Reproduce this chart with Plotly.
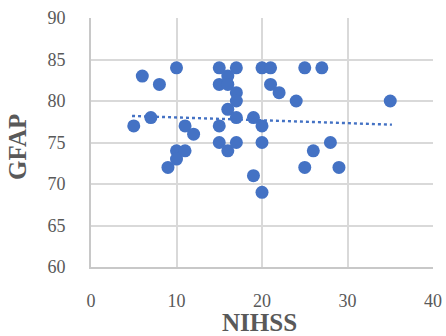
import plotly.graph_objects as go

# NIHSS score vs GFAP level
nihss = [5, 6, 7, 8, 9, 10, 10, 10, 11, 11, 12,
         15, 15, 15, 15, 16, 16, 16, 16,
         17, 17, 17, 17, 17, 19, 19,
         20, 20, 20, 20, 21, 21, 22, 24,
         25, 25, 26, 27, 28, 29, 35]
gfap = [77, 83, 78, 82, 72, 84, 74, 73, 77, 74, 76,
        84, 82, 77, 75, 83, 82, 79, 74,
        84, 81, 80, 78, 75, 78, 71,
        84, 77, 75, 69, 84, 82, 81, 80,
        84, 72, 74, 84, 75, 72, 80]

# linear trendline end points
trend_x = [4.8, 35.2]
trend_y = [78.2, 77.15]

x_ticks = [0, 10, 20, 30, 40]
y_ticks = [60, 65, 70, 75, 80, 85, 90]

blue = "#4472C4"

fig = go.Figure()
fig.add_trace(go.Scatter(
    x=nihss, y=gfap, mode="markers",
    marker=dict(color=blue, size=13, line=dict(width=0)),
    showlegend=False,
))
fig.add_trace(go.Scatter(
    x=trend_x, y=trend_y, mode="lines",
    line=dict(color=blue, width=2.4, dash="dot"),
    showlegend=False,
))

tick_font = dict(family="Liberation Serif", size=18, color="#595959")
title_font = dict(family="Liberation Serif", size=25, color="#595959")

common = dict(
    showgrid=True, gridcolor="#D9D9D9", gridwidth=1.8,
    showline=True, linecolor="#C8C8C8", linewidth=1.8,
    zeroline=False, ticks="", tickfont=tick_font,
    automargin=False, fixedrange=True,
)

fig.update_layout(
    width=446, height=336,
    margin=dict(l=91, r=13, t=18, b=69),
    paper_bgcolor="white", plot_bgcolor="white",
    xaxis=dict(range=[0, 40], tickvals=x_ticks,
               ticktext=[str(v) for v in x_ticks],
               ticklabelstandoff=16, **common),
    yaxis=dict(range=[60, 90], tickvals=y_ticks,
               ticktext=[str(v) for v in y_ticks],
               ticklabelstandoff=20, **common),
    annotations=[
        dict(text="<b>NIHSS</b>", xref="paper", yref="paper",
             x=0.494, y=-0.222, xanchor="center", yanchor="middle",
             showarrow=False, font=title_font),
        dict(text="<b>GFAP</b>", xref="paper", yref="paper",
             x=-0.215, y=0.484, xanchor="center", yanchor="middle",
             textangle=-90, showarrow=False, font=title_font),
    ],
)

fig.write_html("out.html")
